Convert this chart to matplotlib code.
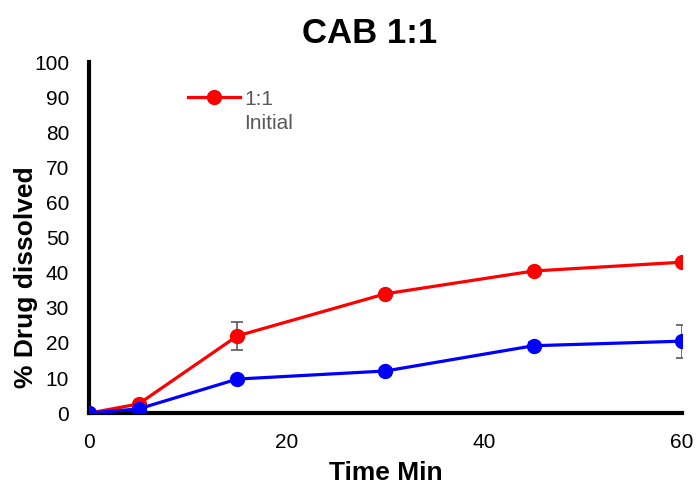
import matplotlib.pyplot as plt
import numpy as np
from matplotlib.lines import Line2D

plt.rcParams['font.family'] = ['Liberation Sans', 'DejaVu Sans']

time = [0, 5, 15, 30, 45, 60]
initial = [0, 2.6, 22, 34, 40.5, 43]
initial_err = [0, 0, 4, 0, 0, 0]
other = [0, 1.2, 9.7, 12, 19.2, 20.5]
other_err = [0, 0, 0, 0, 1, 4.7]

fig = plt.figure(figsize=(6.97, 4.86), dpi=100)
ax = fig.add_axes([0.128, 0.150, 0.850, 0.722])

ax.errorbar(time, initial, yerr=initial_err, color='#ff0000', lw=2.3, marker='o', ms=10,
            ecolor='#595959', elinewidth=1.2, capsize=4, capthick=1.2, zorder=3)
ax.errorbar(time, other, yerr=other_err, color='#0000ff', lw=2.3, marker='o', ms=10,
            ecolor='#595959', elinewidth=1.2, capsize=4, capthick=1.2, zorder=4)

ax.set_xlim(0, 60)
ax.set_ylim(0, 100)
ax.set_xticks([0, 20, 40, 60])
ax.set_yticks(np.arange(0, 101, 10))
ax.tick_params(length=0, labelsize=15)
ax.tick_params(axis='x', pad=14)
ax.tick_params(axis='y', pad=14.5)
for s in ['top', 'right']:
    ax.spines[s].set_visible(False)
for s in ['left', 'bottom']:
    ax.spines[s].set_linewidth(3)
ax.set_xlabel('Time Min', fontsize=19, fontweight='bold', labelpad=7)
ax.set_ylabel('% Drug dissolved', fontsize=19, fontweight='bold', labelpad=-3, y=0.387)
ax.set_title('CAB 1:1', fontsize=25, fontweight='bold', pad=14, x=0.474)

handle = Line2D([], [], color='#ff0000', lw=2.3, marker='o', ms=10)
leg = ax.legend([handle], ['1:1'], loc='upper left', bbox_to_anchor=(0.135, 0.975),
                frameon=False, fontsize=15, handlelength=2.5, handletextpad=0.2)
first = leg.get_texts()[0]
first.set_color('#595959')
# second line of the legend label, hung under "1:1"
ax.annotate('Initial', xy=(0, 0), xycoords=first, xytext=(0, -4), textcoords='offset points',
            ha='left', va='top', fontsize=15, color='#595959', zorder=10)

fig.savefig('out.png', dpi=100)
